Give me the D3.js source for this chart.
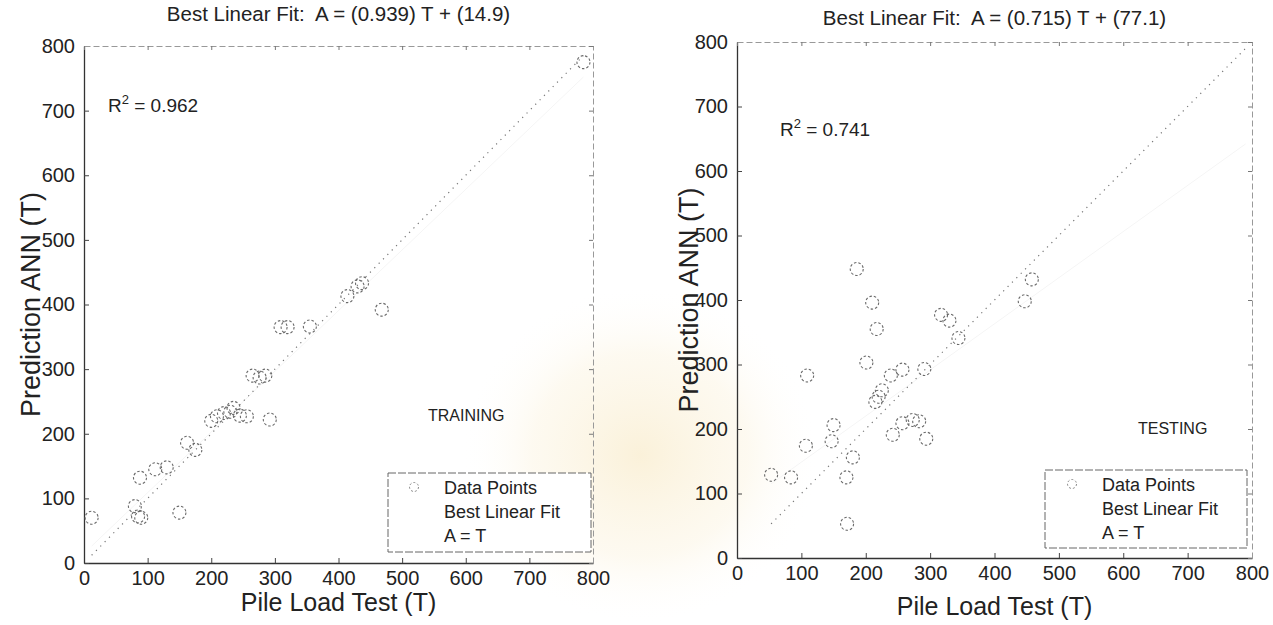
<!DOCTYPE html>
<html>
<head>
<meta charset="utf-8">
<script src="https://cdn.jsdelivr.net/npm/d3@7"></script>
<style>
  html, body { margin: 0; padding: 0; background: #fff; }
  svg { display: block; }
  text { font-family: "Liberation Sans", Arial, sans-serif; fill: #222; white-space: pre; }
</style>
</head>
<body>
<svg id="chart" width="1273" height="625"></svg>
<script>
// Pile load test (T) versus ANN prediction (A), in tonnes
const trainT = [12, 80, 85, 90, 88, 112, 130, 150, 162, 175, 200, 209, 220, 230, 235, 245, 256, 292, 265, 276, 285, 309, 320, 355, 414, 430, 437, 468, 785];
const trainA = [70, 88, 72, 70, 132, 145, 148, 78, 186, 175, 220, 227, 232, 234, 240, 228, 227, 222, 290, 287, 290, 365, 365, 366, 413, 428, 433, 392, 775];

const testT = [53, 84, 107, 109, 147, 150, 170, 171, 180, 186, 201, 210, 215, 217, 220, 225, 239, 242, 257, 257, 273, 283, 291, 294, 317, 330, 344, 447, 458];
const testA = [129, 125, 174, 283, 181, 206, 125, 53, 156, 448, 303, 396, 242, 355, 250, 260, 283, 191, 292, 209, 214, 212, 293, 185, 377, 368, 341, 398, 432];

// Regression results
const trainFit = { slope: 0.939, intercept: 14.9, r2: 0.962 };
const testFit = { slope: 0.715, intercept: 77.1, r2: 0.741 };

const tickValues = [0, 100, 200, 300, 400, 500, 600, 700, 800];
const legendLabels = ["Data Points", "Best Linear Fit", "A = T"];

const svg = d3.select("#chart");

// faint emblem glow behind the middle of the page
const defs = svg.append("defs");
const glow = defs.append("radialGradient").attr("id", "glow");
glow.append("stop").attr("offset", "0%").attr("stop-color", "#f6e3b4").attr("stop-opacity", 0.5);
glow.append("stop").attr("offset", "60%").attr("stop-color", "#f9eccb").attr("stop-opacity", 0.28);
glow.append("stop").attr("offset", "100%").attr("stop-color", "#fff").attr("stop-opacity", 0);
svg.append("ellipse").attr("cx", 640).attr("cy", 455).attr("rx", 180).attr("ry", 170).attr("fill", "url(#glow)");

function panel(cfg) {
  const x = d3.scaleLinear().domain([0, 800]).range([cfg.left, cfg.right]);
  const y = d3.scaleLinear().domain([0, 800]).range([cfg.bottom, cfg.top]);
  const g = svg.append("g");

  // axes: ticks point inward on all four sides
  const axB = g.append("g").attr("transform", `translate(0,${cfg.bottom})`)
    .call(d3.axisBottom(x).tickValues(tickValues).tickSize(-5).tickPadding(8).tickSizeOuter(0));
  const axL = g.append("g").attr("transform", `translate(${cfg.left},0)`)
    .call(d3.axisLeft(y).tickValues(tickValues).tickSize(-5).tickPadding(9).tickSizeOuter(0));
  const axT = g.append("g").attr("transform", `translate(0,${cfg.top})`)
    .call(d3.axisTop(x).tickValues(tickValues).tickSize(-4).tickFormat("").tickSizeOuter(0));
  const axR = g.append("g").attr("transform", `translate(${cfg.right},0)`)
    .call(d3.axisRight(y).tickValues(tickValues).tickSize(-4).tickFormat("").tickSizeOuter(0));

  [axB, axL].forEach(a => {
    a.attr("font-size", null).attr("font-family", null);
    a.select(".domain").attr("stroke", "#333").attr("stroke-width", 1.3);
    a.selectAll(".tick line").attr("stroke", "#444");
    a.selectAll(".tick text").attr("font-size", 20).style("font-size", "20px").attr("fill", "#222");
  });
  [axT, axR].forEach(a => {
    a.select(".domain").attr("stroke", "#999").attr("stroke-width", 1).attr("stroke-dasharray", "6,3");
    a.selectAll(".tick line").attr("stroke", "#777");
  });

  // reference lines
  const line = d3.line().x(d => x(d[0])).y(d => y(d[1]));
  const tMin = d3.min(cfg.T), tMax = d3.max(cfg.T.concat([cfg.lineMax]));
  g.append("path")
    .attr("d", line([[tMin, cfg.fit.slope * tMin + cfg.fit.intercept], [tMax, cfg.fit.slope * tMax + cfg.fit.intercept]]))
    .attr("fill", "none").attr("stroke", "#f5f5f5").attr("stroke-width", 1);
  g.append("path")
    .attr("d", line([[tMin, tMin], [tMax, tMax]]))
    .attr("fill", "none").attr("stroke", "#777").attr("stroke-width", 1.2)
    .attr("stroke-dasharray", "1.2,5");

  // data points
  g.append("g").selectAll("circle")
    .data(cfg.T.map((t, i) => [t, cfg.A[i]]))
    .join("circle")
    .attr("cx", d => x(d[0])).attr("cy", d => y(d[1])).attr("r", 6.5)
    .attr("fill", "none").attr("stroke", "#6a6a6a").attr("stroke-width", 1.1)
    .attr("stroke-dasharray", "2.5,2");

  // title
  g.append("text").attr("x", (cfg.left + cfg.right) / 2).attr("y", cfg.titleY)
    .attr("text-anchor", "middle").style("font-size", "20.5px")
    .text(`Best Linear Fit:  A = (${cfg.fit.slope}) T + (${cfg.fit.intercept})`);

  // axis titles
  g.append("text").attr("x", (cfg.left + cfg.right) / 2).attr("y", cfg.xLabelY)
    .attr("text-anchor", "middle").style("font-size", "25px").text("Pile Load Test (T)");
  g.append("text").attr("transform", `translate(${cfg.yLabelX},${(cfg.top + cfg.bottom) / 2}) rotate(-90)`)
    .attr("text-anchor", "middle").style("font-size", "27px").text("Prediction ANN (T)");

  // R squared
  const r2 = g.append("text").attr("x", cfg.r2x).attr("y", cfg.r2y).style("font-size", "19px");
  r2.append("tspan").text("R");
  r2.append("tspan").attr("dy", -8).style("font-size", "13px").text("2");
  r2.append("tspan").attr("dy", 8).text(` = ${cfg.fit.r2}`);

  // set name
  g.append("text").attr("x", cfg.setX).attr("y", cfg.setY).style("font-size", "16px").text(cfg.set);

  // legend
  const lg = g.append("g");
  lg.append("rect").attr("x", cfg.leg.x).attr("y", cfg.leg.y).attr("width", cfg.leg.w).attr("height", cfg.leg.h)
    .attr("fill", "#fff").attr("stroke", "#666").attr("stroke-width", 1).attr("stroke-dasharray", "8,2");
  lg.append("circle").attr("cx", cfg.leg.mx).attr("cy", cfg.leg.y + 14).attr("r", 4.5)
    .attr("fill", "none").attr("stroke", "#888").attr("stroke-width", 1).attr("stroke-dasharray", "2,2");
  lg.selectAll("text.lab").data(legendLabels).join("text").attr("class", "lab")
    .attr("x", cfg.leg.tx).attr("y", (d, i) => cfg.leg.y + 21 + i * 24)
    .style("font-size", "18px").text(d => d);
}

panel({
  left: 84, right: 593, top: 46, bottom: 563,
  T: trainT, A: trainA, fit: trainFit, lineMax: 785,
  titleY: 21, xLabelY: 611, yLabelX: 40,
  r2x: 108, r2y: 112, set: "TRAINING", setX: 428, setY: 421,
  leg: { x: 388, y: 473, w: 203, h: 79, mx: 414, tx: 444 }
});

panel({
  left: 737, right: 1252, top: 42, bottom: 558,
  T: testT, A: testA, fit: testFit, lineMax: 790,
  titleY: 25, xLabelY: 615, yLabelX: 698,
  r2x: 780, r2y: 136, set: "TESTING", setX: 1138, setY: 434,
  leg: { x: 1045, y: 470, w: 202, h: 78, mx: 1072, tx: 1102 }
});
</script>
</body>
</html>
